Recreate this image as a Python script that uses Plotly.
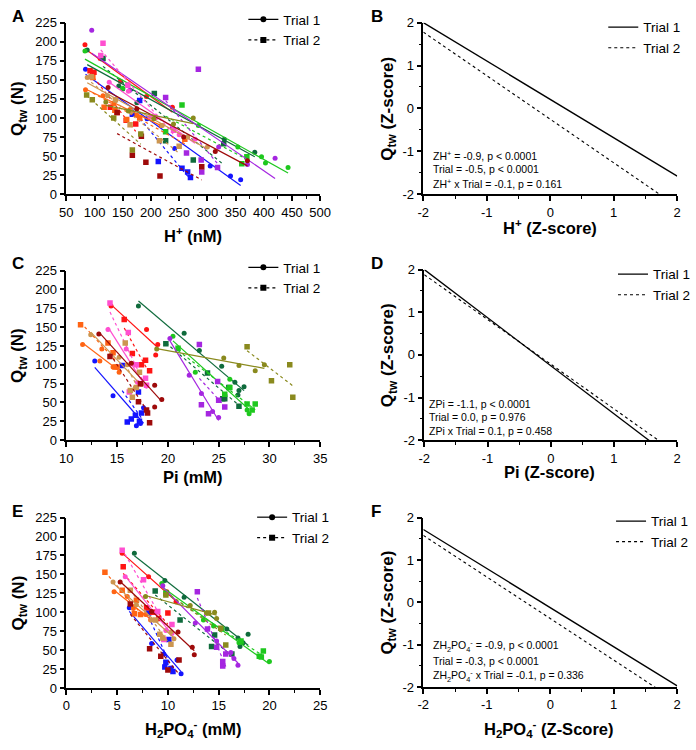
import numpy as np
import plotly.graph_objects as go

SUBJECTS = ["blue", "red", "darkgreen", "green", "purple", "pink", "orange", "tan", "darkred", "olive"]
COLORS = {
    "blue": "#1414ff", "red": "#ff1414", "darkgreen": "#0f6b3c", "green": "#1ec81e",
    "purple": "#a526e0", "pink": "#ff4fd0", "orange": "#ff6414", "tan": "#cc9650",
    "darkred": "#9e0a0a", "olive": "#8a8a1e",
}

# Panel A: H+ (nM) vs Qtw (N)   subject -> (x, y)
H_T1 = {
    "blue": ([84, 193, 242, 305, 341, 359], [164, 99, 60, 37, 24, 19]),
    "red": ([83, 110, 146, 192, 238], [196, 178, 148, 128, 114]),
    "darkgreen": ([87, 143, 150, 175, 330, 384], [189, 142, 138, 120, 72, 55]),
    "green": ([83, 150, 284, 354, 396, 403, 443], [188, 139, 90, 62, 49, 41, 35]),
    "purple": ([95, 162, 238, 320, 371, 420], [215, 136, 87, 62, 39, 47]),
    "pink": ([126, 160, 198, 250, 278], [147, 135, 101, 78, 72]),
    "orange": ([84, 115, 134, 163, 175, 218], [137, 129, 119, 111, 104, 90]),
    "tan": ([87, 123, 165, 220, 265, 300], [153, 129, 108, 90, 75, 62]),
    "darkred": ([124, 175, 258, 314, 371], [140, 112, 75, 56, 44]),
    "olive": ([120, 160, 205, 240, 275], [121, 109, 99, 92, 100]),
}
H_T2 = {
    "blue": ([167, 180, 213, 255, 265, 270], [105, 123, 43, 34, 29, 22]),
    "red": ([92, 99, 128, 140, 156, 173], [162, 160, 114, 107, 97, 92]),
    "darkgreen": ([115, 206, 226, 275, 329], [178, 132, 70, 45, 66]),
    "green": ([226, 255, 361, 370], [82, 117, 40, 49]),
    "purple": ([226, 263, 284, 289, 290, 318], [127, 54, 164, 45, 29, 35]),
    "pink": ([111, 115, 159, 207, 240], [182, 198, 143, 101, 84]),
    "orange": ([97, 117, 136, 157, 180, 260], [153, 114, 110, 98, 100, 72]),
    "tan": ([94, 137, 163, 215, 250], [154, 124, 91, 70, 63]),
    "darkred": ([140, 167, 183, 191, 216, 290], [107, 51, 76, 42, 24, 36]),
    "olive": ([86, 96, 134, 167, 182], [130, 124, 100, 58, 79]),
}

# Panel C: Pi (mM) vs Qtw (N)
PI_T1 = {
    "blue": ([12.8, 14.6, 16.9, 17.3, 17.6], [105, 59, 19, 22, 43]),
    "red": ([14.4, 17.9, 19.0, 18.8], [178, 147, 127, 113]),
    "darkgreen": ([17.1, 21.6, 23.1, 25.3, 26.6, 26.9, 27.0, 27.5], [178, 142, 119, 98, 77, 60, 66, 71]),
    "green": ([20.5, 22.7, 26.1, 27.8, 28.0], [138, 90, 81, 40, 35]),
    "purple": ([20.2, 22.1, 23.3, 24.4, 25.0], [135, 86, 62, 38, 30]),
    "pink": ([14.1, 15.9, 16.5, 17.0, 17.9], [147, 121, 101, 77, 72]),
    "orange": ([11.6, 13.3, 13.5, 14.6, 15.2], [127, 105, 121, 97, 90]),
    "tan": ([12.4, 15.2, 16.0, 16.8, 17.4], [140, 110, 100, 70, 74]),
    "darkred": ([13.2, 16.4, 18.7, 19.4, 18.7], [141, 102, 73, 54, 44]),
    "olive": ([18.9, 25.5, 27.0, 28.6, 29.5], [121, 109, 99, 92, 100]),
}
PI_T2 = {
    "blue": ([15.5, 16.0, 16.4, 16.8, 17.1, 17.2, 17.4], [99, 24, 28, 33, 64, 25, 36]),
    "red": ([15.7, 16.5, 17.4, 17.8, 18.2], [160, 115, 100, 106, 92]),
    "darkgreen": ([19.8, 23.9, 25.4, 26.0, 25.6, 27.0], [128, 89, 55, 70, 55, 45]),
    "green": ([21.0, 25.6, 26.1, 27.8, 28.3, 28.6], [122, 61, 70, 48, 40, 48]),
    "purple": ([23.1, 23.3, 24.0, 24.9, 25.0, 25.6], [127, 47, 35, 78, 53, 44]),
    "pink": ([14.3, 16.1, 16.9, 16.2, 17.8, 17.9], [182, 143, 100, 64, 82, 73]),
    "orange": ([11.4, 14.1, 14.6, 14.8, 15.0], [153, 129, 116, 97, 97]),
    "tan": ([15.8, 16.3, 16.5, 16.9, 17.2], [129, 66, 57, 70, 90]),
    "darkred": ([14.3, 17.1, 17.3, 17.9, 18.0, 18.2], [111, 51, 75, 40, 36, 23]),
    "olive": ([27.8, 30.2, 32.0, 32.3], [124, 79, 100, 57]),
}

# Panel E: H2PO4- (mM) vs Qtw (N)
HPO_T1 = {
    "blue": ([6.2, 8.4, 9.6, 10.9, 11.3], [106, 59, 45, 37, 19]),
    "red": ([5.5, 8.1, 9.9, 10.8], [178, 147, 127, 114]),
    "darkgreen": ([6.7, 9.7, 11.6, 15.8, 16.9, 17.1, 17.4, 17.9], [178, 142, 120, 78, 66, 55, 60, 71]),
    "green": ([9.4, 13.5, 14.5, 17.0, 20.0], [138, 90, 82, 60, 35]),
    "purple": ([9.5, 12.7, 14.8, 16.2, 16.5, 16.9], [135, 86, 62, 47, 39, 30]),
    "pink": ([5.8, 8.9, 9.8, 10.4], [147, 100, 76, 72]),
    "orange": ([4.7, 6.0, 6.6, 7.8, 8.3], [127, 121, 105, 97, 90]),
    "tan": ([4.6, 6.9, 8.4, 10.3, 10.6], [140, 110, 90, 74, 65]),
    "darkred": ([5.3, 8.4, 11.0, 12.4, 12.6], [140, 101, 74, 54, 44]),
    "olive": ([7.8, 12.2, 13.8, 14.6, 14.8], [121, 109, 99, 100, 92]),
}
HPO_T2 = {
    "blue": ([8.1, 9.7, 9.8, 10.1, 10.3, 10.5], [99, 28, 34, 64, 26, 22]),
    "red": ([5.6, 7.9, 8.5, 9.1, 10.0], [160, 106, 100, 92, 99]),
    "darkgreen": ([8.75, 11.2, 14.3, 14.6, 16.3], [128, 90, 55, 70, 45]),
    "green": ([9.8, 15.3, 17.2, 19.0, 19.2, 19.4], [125, 78, 62, 42, 41, 49]),
    "purple": ([12.9, 13.9, 14.8, 15.4, 15.4, 15.7], [127, 78, 54, 35, 29, 45]),
    "pink": ([5.5, 7.6, 9.0, 9.6, 10.4], [182, 143, 101, 64, 84]),
    "orange": ([3.8, 5.5, 6.9, 6.7, 7.3], [153, 129, 116, 98, 97]),
    "tan": ([6.3, 8.8, 9.2, 10.3, 9.5], [129, 90, 71, 58, 66]),
    "darkred": ([6.3, 8.2, 9.3, 10.0, 11.1], [111, 52, 42, 24, 37]),
    "olive": ([9.8, 14.0, 15.2, 15.7], [123, 99, 79, 57]),
}

# Panels B, D, F: model lines (intercept, slope) in z-scores
B_MODEL = {"Trial 1": (0.21, -0.895), "Trial 2": (-0.252, -1.016)}
D_MODEL = {"Trial 1": (-0.254, -1.127), "Trial 2": (-0.217, -1.049)}
F_MODEL = {"Trial 1": (-0.125, -0.9225), "Trial 2": (-0.382, -0.981)}

B_STATS = ["ZH<sup>+</sup> = -0.9, p &lt; 0.0001", "Trial = -0.5, p &lt; 0.0001",
           "ZH<sup>+</sup> x Trial = -0.1, p = 0.161"]
D_STATS = ["ZPi = -1.1, p &lt; 0.0001", "Trial = 0.0, p = 0.976", "ZPi x Trial = 0.1, p = 0.458"]
F_STATS = ["ZH<sub>2</sub>PO<sub>4</sub><sup>-</sup> = -0.9, p &lt; 0.0001", "Trial = -0.3, p &lt; 0.0001",
           "ZH<sub>2</sub>PO<sub>4</sub><sup>-</sup> x Trial = -0.1, p = 0.336"]

W, H = 696, 750
FONT = "Arial, Liberation Sans, sans-serif"


def px(x):
    return x / W


def py(y):
    return 1 - y / H


fig = go.Figure()

# plot rectangles in pixels: (left, right, top, bottom)
BOXES = {
    1: (61, 322, 16, 191), 2: (428, 689, 16, 191),
    3: (61, 322, 269, 442), 4: (429, 689, 268, 442),
    5: (61, 322, 521, 695), 6: (428, 689, 521, 694),
}


def ax_name(n, a):
    return a if n == 1 else f"{a}{n}"


def scatter_panel(n, t1, t2, leg):
    xa, ya = ax_name(n, "x"), ax_name(n, "y")
    for s in SUBJECTS:
        c = COLORS[s]
        for data, sym, dash in ((t1, "circle", "solid"), (t2, "square", "dot")):
            x, y = data[s]
            k, b = np.polyfit(x, y, 1)
            xs = [min(x), max(x)]
            fig.add_trace(go.Scatter(x=xs, y=[k * v + b for v in xs], mode="lines",
                                     line=dict(color=c, width=1.2, dash=dash),
                                     xaxis=xa, yaxis=ya, showlegend=False, hoverinfo="skip"))
            fig.add_trace(go.Scatter(x=x, y=y, mode="markers",
                                     marker=dict(symbol=sym, size=5 if sym == "circle" else 5.5, color=c),
                                     xaxis=xa, yaxis=ya, showlegend=False))
    for name, sym, dash in (("Trial 1", "circle", "solid"), ("Trial 2", "square", "dot")):
        fig.add_trace(go.Scatter(x=[None], y=[None], mode="lines+markers", name=name,
                                 line=dict(color="black", width=1.2, dash=dash),
                                 marker=dict(symbol=sym, size=6, color="black"),
                                 xaxis=xa, yaxis=ya, legend=leg))


def model_panel(n, model, leg):
    xa, ya = ax_name(n, "x"), ax_name(n, "y")
    for name, dash, w in (("Trial 1", "solid", 1.3), ("Trial 2", "dot", 1.1)):
        b0, b1 = model[name]
        xs = [-2, 2]
        fig.add_trace(go.Scatter(x=xs, y=[b0 + b1 * v for v in xs], mode="lines", name=name,
                                 line=dict(color="black", width=w, dash=dash),
                                 xaxis=xa, yaxis=ya, legend=leg))


scatter_panel(1, H_T1, H_T2, "legend")
model_panel(2, B_MODEL, "legend2")
scatter_panel(3, PI_T1, PI_T2, "legend3")
model_panel(4, D_MODEL, "legend4")
scatter_panel(5, HPO_T1, HPO_T2, "legend5")
model_panel(6, F_MODEL, "legend6")

axis_common = dict(showline=True, linecolor="black", linewidth=1.5, ticks="outside", ticklen=5,
                   tickwidth=1.5, tickcolor="black", showgrid=False, zeroline=False,
                   tickfont=dict(family=FONT, size=13, color="black"))
minor_common = dict(ticklen=3, tickwidth=1.2, tickcolor="black", showgrid=False)

XRANGES = {1: (50, 500, 50, 25), 3: (10, 35, 5, 2.5), 5: (0, 25, 5, 2.5)}
layout = dict(width=W, height=H, margin=dict(l=0, r=0, t=0, b=0),
              paper_bgcolor="white", plot_bgcolor="white", showlegend=True)

for n, (l, r, t, b) in BOXES.items():
    xk, yk = ax_name(n, "xaxis"), ax_name(n, "yaxis")
    if n % 2 == 1:
        lo, hi, step, mstep = XRANGES[n]
        xt = list(np.arange(lo, hi + step / 2, step))
        xaxis = dict(range=[lo, hi], tickvals=xt, ticktext=[f"{v:g}" for v in xt],
                     minor=dict(dtick=mstep, tick0=lo, **minor_common))
        yt = list(range(0, 226, 25))
        yaxis = dict(range=[0, 225], tickvals=yt, ticktext=[str(v) for v in yt])
    else:
        zt = [-2, -1, 0, 1, 2]
        xaxis = dict(range=[-2, 2], tickvals=zt, ticktext=[str(v) for v in zt],
                     minor=dict(dtick=0.5, tick0=-2, **minor_common))
        yaxis = dict(range=[-2, 2], tickvals=zt, ticktext=[str(v) for v in zt],
                     minor=dict(dtick=0.5, tick0=-2, **minor_common))
    layout[xk] = dict(domain=[px(l), px(r)], anchor=ax_name(n, "y"), **xaxis, **axis_common)
    layout[yk] = dict(domain=[py(b), py(t)], anchor=ax_name(n, "x"), **yaxis, **axis_common)

# legends: (left px of legend, top px)
LEGENDS = {"legend": (243, -3), "legend2": (613, 5), "legend3": (243, 250),
           "legend4": (623, 257), "legend5": (252, 505), "legend6": (621, 509)}
for key, (lx, ty) in LEGENDS.items():
    layout[key] = dict(x=px(lx), y=py(ty), xanchor="left", yanchor="top", bgcolor="rgba(0,0,0,0)",
                       font=dict(family=FONT, size=13.5, color="black"), itemwidth=30,
                       tracegroupgap=0, itemclick=False)

fig.update_layout(**layout)

ann = []
# panel letters
for letter, (lx, ty) in {"A": (3, -2), "B": (372, -2), "C": (3, 250), "D": (372, 250),
                         "E": (3, 503), "F": (372, 503)}.items():
    ann.append(dict(text=f"<b>{letter}</b>", x=px(lx), y=py(ty), xref="paper", yref="paper",
                    xanchor="left", yanchor="top", showarrow=False,
                    font=dict(family=FONT, size=17, color="black")))

# axis titles
XTITLES = [("H<sup>+</sup> (nM)", 191, 233), ("H<sup>+</sup> (Z-score)", 558, 224),
           ("Pi (mM)", 191, 480), ("Pi (Z-score)", 558, 474),
           ("H<sub>2</sub>PO<sub>4</sub><sup>-</sup> (mM)", 191, 737),
           ("H<sub>2</sub>PO<sub>4</sub><sup>-</sup> (Z-Score)", 557, 737)]
for txt, cx, cy in XTITLES:
    ann.append(dict(text=f"<b>{txt}</b>", x=px(cx), y=py(cy), xref="paper", yref="paper",
                    xanchor="center", yanchor="middle", showarrow=False,
                    font=dict(family=FONT, size=16.5, color="black")))
YTITLES = [("Q<sub>tw</sub> (N)", 13, 1), ("Q<sub>tw</sub> (Z-score)", 393, 2),
           ("Q<sub>tw</sub> (N)", 13, 3), ("Q<sub>tw</sub> (Z-score)", 393, 4),
           ("Q<sub>tw</sub> (N)", 13, 5), ("Q<sub>tw</sub> (Z-score)", 393, 6)]
for txt, cx, n in YTITLES:
    l, r, t, b = BOXES[n]
    ann.append(dict(text=f"<b>{txt}</b>", x=px(cx), y=py((t + b) / 2), xref="paper", yref="paper",
                    xanchor="center", yanchor="middle", showarrow=False, textangle=-90,
                    font=dict(family=FONT, size=17, color="black")))

# stats text
for lines, lx, ys in ((B_STATS, 436, (152, 165, 180)), (D_STATS, 432, (405, 418, 433)),
                      (F_STATS, 436, (652, 667, 683))):
    for txt, yy in zip(lines, ys):
        ann.append(dict(text=txt, x=px(lx), y=py(yy), xref="paper", yref="paper",
                        xanchor="left", yanchor="middle", showarrow=False,
                        font=dict(family=FONT, size=10.5, color="black")))

fig.update_layout(annotations=ann)
fig.write_html("out.html", config={"displayModeBar": False},
               post_script="document.body.style.margin='0';document.body.style.overflow='hidden';")
